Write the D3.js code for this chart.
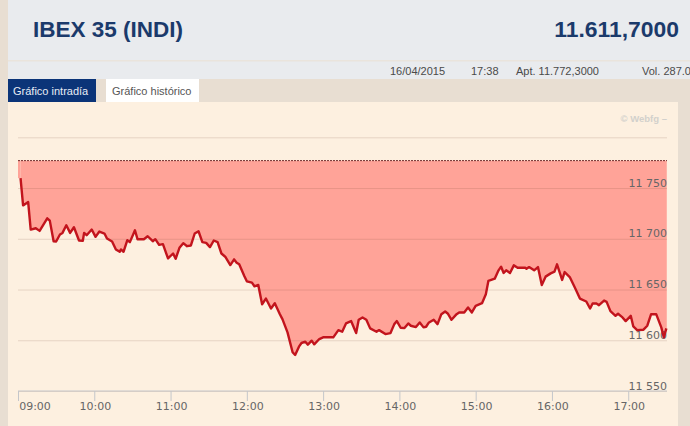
<!DOCTYPE html>
<html>
<head>
<meta charset="utf-8">
<script src="https://cdnjs.cloudflare.com/ajax/libs/d3/7.8.5/d3.min.js"></script>
<style>
html, body { margin: 0; padding: 0; background: #e8ded2; overflow: hidden; }
svg { display: block; }
.head { font-family: "Liberation Sans", Arial, sans-serif; }
.axis { font-family: "DejaVu Sans", sans-serif; font-size: 11px; }
</style>
</head>
<body>
<div id="chart"></div>
<script>
// minutes since 09:00
const minutes = [2,4,8,10,14,17,20,23,25,28,30,33,35,38,41,44,48,51,52,54,58,61,64,68,70,74,77,80,81,83,86,88,92,94,99,102,106,108,111,114,118,122,124,127,130,133,136,139,142,145,148,151,154,157,160,163,167,
  170,172,174,178,180,184,186,189,192,195,199,202,206,208,212,216,218,221,223,226,228,231,233,237,240,245,248,252,255,258,262,266,268,271,274,277,282,284,289,293,296,298,301,304,307,309,313,316,319,321,323,327,330,333,336,338,341,345,347,
  351,354,357,360,365,368,370,375,378,380,382,384,387,390,393,399,400,402,406,409,412,415,419,422,424,428,430,434,438,442,447,450,452,455,457,461,463,466,470,472,475,478,482,484,487,492,495,498,502,506,508,510];
const prices = [11759.7,11732.9,11736.2,11709.1,11710.4,11707.8,11714,11720.2,11717.9,11697.6,11697.3,11704.2,11705.8,11713.3,11705.8,11711.4,11698.3,11698,11705.8,11703.5,11709.1,11701.9,11707.1,11705.2,11700.2,11697.3,11689.5,11687.2,11689.5,11687.2,11698.6,11696.7,11708.4,11699.6,11699.6,11702.5,11697.6,11699.6,11694,11694.7,11680.6,11685.5,11680.3,11691.1,11695.7,11692.7,11693.4,11705.2,11707.4,11696.7,11696,11691.8,11698.3,11696.7,11685.5,11682.3,11674.1,
  11679.7,11676.4,11674.8,11663.3,11658.1,11656.8,11653.2,11654.5,11635.5,11641.1,11631.3,11636.5,11625.7,11620.8,11607.8,11588.2,11585.5,11593.7,11597.3,11598.6,11595.7,11599.6,11596,11601.2,11602.9,11602.9,11602.9,11610,11608.4,11616.6,11618.9,11607.1,11620.2,11622.5,11620.2,11611.7,11608.4,11610,11606.1,11607.1,11615.9,11618.9,11612.3,11612,11616.6,11614.3,11613,11617.6,11612.7,11613.3,11617.2,11620.2,11615.9,11625.7,11628.4,11626.4,11620.2,11625.7,11627.4,
  11627.4,11632.3,11627.4,11633.9,11636.5,11645.3,11658.4,11660.7,11668.9,11672.5,11666.3,11668.9,11666.3,11673.8,11671.5,11671.5,11670.5,11672.1,11668.9,11672.1,11654.5,11662.7,11665.9,11667.6,11674.8,11659.4,11667.2,11662.3,11651.9,11641.1,11638.2,11631.3,11636.2,11636.2,11634.6,11639.1,11637.8,11628.7,11624.1,11626.1,11623.1,11618.9,11624.1,11613.6,11610,11610.4,11614.3,11625.7,11625.7,11612.7,11602.9,11611.7];
const refLevel = 11777;
const priceTicks = [11550, 11600, 11650, 11700, 11750, 11800];
const hourTicks = [0, 60, 120, 180, 240, 300, 360, 420, 480];
const hourLabels = ["09:00", "10:00", "11:00", "12:00", "13:00", "14:00", "15:00", "16:00", "17:00"];
const headerInfo = [
  { text: "16/04/2015", x: 390 },
  { text: "17:38", x: 471 },
  { text: "Apt. 11.772,3000", x: 516 },
  { text: "Vol. 287.0", x: 642 }
];

const W = 690, H = 426;
const margin = { top: 137.3, right: 23, bottom: 35, left: 18 };
const width = W - margin.left - margin.right;
const height = H - margin.top - margin.bottom;

const svg = d3.select("#chart").append("svg").attr("width", W).attr("height", H);

// page furniture
svg.append("rect").attr("width", W).attr("height", H).attr("fill", "#e8ded2");
svg.append("rect").attr("x", 8).attr("width", W - 8).attr("height", 79).attr("fill", "#e9ebee");
svg.append("rect").attr("x", 8).attr("y", 60).attr("width", W - 8).attr("height", 1.5).attr("fill", "#eae4dc");
svg.append("rect").attr("x", 8).attr("y", 102).attr("width", 670).attr("height", H - 102).attr("fill", "#fdf0e0");

const head = svg.append("g").attr("class", "head");
head.append("text").attr("x", 33).attr("y", 37)
  .attr("font-size", 22.5).attr("font-weight", "bold").attr("fill", "#1b3a6b").text("IBEX 35 (INDI)");
head.append("text").attr("x", 679).attr("y", 37).attr("text-anchor", "end")
  .attr("font-size", 22.9).attr("font-weight", "bold").attr("fill", "#1b3a6b").text("11.611,7000");
head.selectAll(".info").data(headerInfo).enter().append("text")
  .attr("class", "info")
  .attr("x", d => d.x).attr("y", 75)
  .attr("font-size", 11).attr("fill", "#4a4a4a")
  .text(d => d.text);

head.append("rect").attr("x", 8).attr("y", 79).attr("width", 88).attr("height", 23).attr("fill", "#0b3478");
head.append("rect").attr("x", 106).attr("y", 79).attr("width", 93).attr("height", 23).attr("fill", "#ffffff");
head.append("text").attr("x", 13).attr("y", 95).attr("font-size", 11).attr("fill", "#e8edf5").text("Gráfico intradía");
head.append("text").attr("x", 112).attr("y", 95).attr("font-size", 11).attr("fill", "#555").text("Gráfico histórico");
head.append("text").attr("x", 667).attr("y", 122).attr("text-anchor", "end")
  .attr("font-size", 9.5).attr("font-weight", "bold").attr("fill", "#d2d0cc").text("© Webfg –");

// scales
const x = d3.scaleLinear().domain([0, 510.5]).range([0, width]);
const y = d3.scaleLinear().domain([11550, 11800]).range([height, 0]);

const plot = svg.append("g").attr("transform", `translate(${margin.left},${margin.top})`);

const data = minutes.map((m, i) => ({ m: m, p: prices[i] }));

const area = d3.area().x(d => x(d.m)).y0(y(refLevel)).y1(d => y(d.p));
const line = d3.line().x(d => x(d.m)).y(d => y(d.p));

// fill up to the previous close, square to the plot's left edge
plot.append("rect")
  .attr("x", 0).attr("y", y(refLevel))
  .attr("width", x(minutes[0])).attr("height", y(prices[0]) - y(refLevel))
  .attr("fill", "#ffa398");
plot.append("path").datum(data).attr("d", area).attr("fill", "#ffa398");
plot.append("rect")
  .attr("x", x(minutes[minutes.length - 1])).attr("y", y(refLevel))
  .attr("width", width - x(minutes[minutes.length - 1])).attr("height", y(prices[prices.length - 1]) - y(refLevel))
  .attr("fill", "#ffa398");

const fmt = d3.formatLocale({ thousands: " ", grouping: [3], decimal: ",", currency: ["", ""] }).format(",");

const yAxis = d3.axisLeft(y)
  .tickValues(priceTicks)
  .tickSize(-width)
  .tickFormat(d => d === 11800 ? "" : fmt(d));

const yG = plot.append("g").attr("class", "axis").call(yAxis);
yG.select(".domain").remove();
yG.selectAll(".tick line").attr("stroke", "rgba(110,70,50,0.16)");
yG.selectAll(".tick text")
  .attr("text-anchor", "end")
  .attr("x", width)
  .attr("dy", 0)
  .attr("y", -2)
  .attr("fill", "#666");

const xAxis = d3.axisBottom(x)
  .tickValues(hourTicks)
  .tickSize(10)
  .tickFormat((d, i) => hourLabels[i]);

const xG = plot.append("g").attr("class", "axis")
  .attr("transform", `translate(0,${height})`)
  .call(xAxis);
xG.select(".domain").attr("stroke", "#c4c6ca").attr("d", `M0,0H${width}`);
xG.selectAll(".tick line").attr("stroke", "#c4c6ca");
xG.selectAll(".tick text")
  .attr("y", 11)
  .attr("dx", (d, i) => i === 0 ? 16.5 : 0.5)
  .attr("fill", "#666");

plot.append("line")
  .attr("x1", 0).attr("x2", width)
  .attr("y1", y(refLevel)).attr("y2", y(refLevel))
  .attr("stroke", "#6e2a2a").attr("stroke-width", 1).attr("stroke-dasharray", "2,1");

plot.append("path").datum(data)
  .attr("d", line)
  .attr("fill", "none")
  .attr("stroke", "#c2141d")
  .attr("stroke-width", 2.4)
  .attr("stroke-linejoin", "round");
</script>
</body>
</html>
